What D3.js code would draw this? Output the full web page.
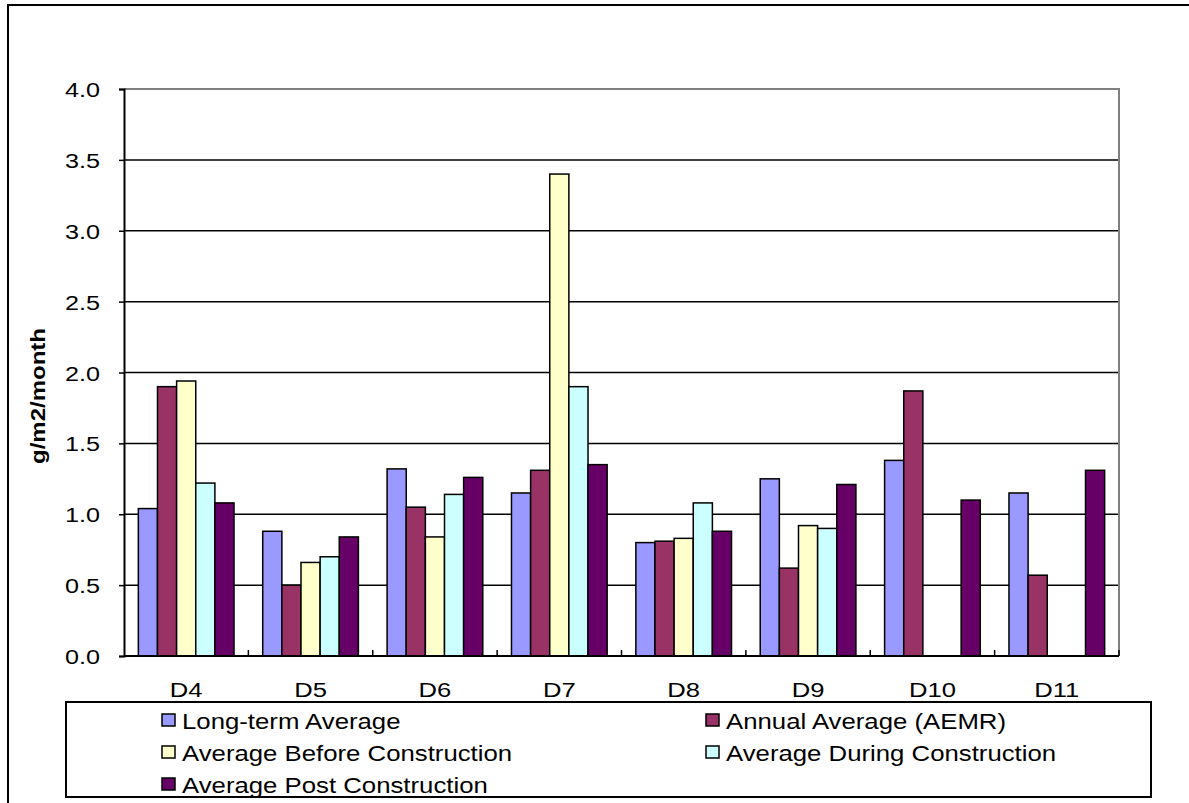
<!DOCTYPE html>
<html>
<head>
<meta charset="utf-8">
<script src="https://cdn.jsdelivr.net/npm/d3@7"></script>
<style>
  html, body { margin: 0; padding: 0; background: #fff; }
  svg { display: block; }
  text { font-family: Arial, "Liberation Sans", sans-serif; fill: #000; }
</style>
</head>
<body>
<svg id="chart" width="1189" height="803"></svg>
<script>
// Dust deposition by monitoring station (g/m2/month)
const categories = ["D4", "D5", "D6", "D7", "D8", "D9", "D10", "D11"];
const seriesNames = [
  "Long-term Average",
  "Annual Average (AEMR)",
  "Average Before Construction",
  "Average During Construction",
  "Average Post Construction"
];
const longTermAverage   = [1.04, 0.88, 1.32, 1.15, 0.80, 1.25, 1.38, 1.15];
const annualAverage     = [1.90, 0.50, 1.05, 1.31, 0.81, 0.62, 1.87, 0.57];
const beforeConstruction = [1.94, 0.66, 0.84, 3.40, 0.83, 0.92, null, null];
const duringConstruction = [1.22, 0.70, 1.14, 1.90, 1.08, 0.90, null, null];
const postConstruction   = [1.08, 0.84, 1.26, 1.35, 0.88, 1.21, 1.10, 1.31];
const seriesColors = ["#9999FF", "#993366", "#FFFFCC", "#CCFFFF", "#660066"];
const yTicks = [0, 0.5, 1, 1.5, 2, 2.5, 3, 3.5, 4];
const yTitle = "g/m2/month";

const seriesValues = [longTermAverage, annualAverage, beforeConstruction, duringConstruction, postConstruction];

const svg = d3.select("#chart");
const plot = { left: 124, right: 1119, top: 89, bottom: 656 };

// text drawn with a slight horizontal stretch
function stretchedText(sel, x, y, str, opts) {
  const sx = opts.sx || 1.18;
  const t = sel.append("text")
    .attr("transform", `translate(${x},${y}) scale(${sx},1)`)
    .attr("text-anchor", opts.anchor || "start")
    .attr("font-size", opts.size || 21)
    .attr("font-weight", opts.weight || "normal")
    .text(str);
  return t;
}

// Outer chart frame
svg.append("rect")
  .attr("x", 8).attr("y", 5).attr("width", 1300).attr("height", 900)
  .attr("fill", "none").attr("stroke", "#000").attr("stroke-width", 2);

const y = d3.scaleLinear().domain([0, 4]).range([plot.bottom, plot.top]);
const x = d3.scaleBand().domain(categories).range([plot.left, plot.right]).paddingInner(0).paddingOuter(0);
const xs = d3.scaleBand().domain(seriesNames).range([0, x.bandwidth()]).paddingInner(0).paddingOuter(0.75);

// Gridlines
svg.append("g").selectAll("line")
  .data(yTicks.filter(d => d > 0 && d < 4))
  .join("line")
  .attr("x1", plot.left).attr("x2", plot.right)
  .attr("y1", d => y(d)).attr("y2", d => y(d))
  .attr("stroke", "#000").attr("stroke-width", 1.5);

// Plot-area border (top and right, grey)
svg.append("path")
  .attr("d", `M${plot.left},${y(4)}H${plot.right}V${plot.bottom}`)
  .attr("fill", "none").attr("stroke", "#808080").attr("stroke-width", 2);

// Bars
const barData = [];
seriesValues.forEach((vals, si) => {
  vals.forEach((v, ci) => {
    if (v !== null) barData.push({ cat: categories[ci], series: seriesNames[si], value: v, color: seriesColors[si] });
  });
});
svg.append("g").selectAll("rect")
  .data(barData)
  .join("rect")
  .attr("x", d => x(d.cat) + xs(d.series))
  .attr("y", d => y(d.value))
  .attr("width", xs.bandwidth())
  .attr("height", d => y(0) - y(d.value))
  .attr("fill", d => d.color)
  .attr("stroke", "#000").attr("stroke-width", 1.5);

// Y axis
const yAxis = svg.append("g").attr("transform", `translate(${plot.left},0)`)
  .call(d3.axisLeft(y).tickValues(yTicks).tickSize(5).tickFormat(""));
yAxis.select(".domain").attr("stroke", "#000").attr("stroke-width", 2);
yAxis.selectAll(".tick line").attr("stroke", "#000").attr("stroke-width", 1.5);

yTicks.forEach(t => {
  stretchedText(svg, 100, y(t) + 8, d3.format(".1f")(t), { anchor: "end", size: 21, sx: 1.2 });
});

// X axis with inward ticks at category boundaries
const xAxisG = svg.append("g");
xAxisG.append("line")
  .attr("x1", plot.left).attr("x2", plot.right)
  .attr("y1", plot.bottom).attr("y2", plot.bottom)
  .attr("stroke", "#000").attr("stroke-width", 2);
xAxisG.selectAll("line.tick")
  .data(categories.slice(1).concat(["end"]))
  .join("line").attr("class", "tick")
  .attr("x1", (d, i) => i < categories.length - 1 ? x(d) : plot.right)
  .attr("x2", (d, i) => i < categories.length - 1 ? x(d) : plot.right)
  .attr("y1", plot.bottom).attr("y2", plot.bottom - 6)
  .attr("stroke", "#000").attr("stroke-width", 1.5);

categories.forEach(c => {
  stretchedText(svg, x(c) + x.bandwidth() / 2, 697, c, { anchor: "middle", size: 21, sx: 1.22 });
});

// Y axis title
svg.append("text")
  .attr("transform", `translate(45,396) rotate(-90) scale(1.2,1)`)
  .attr("text-anchor", "middle")
  .attr("font-size", 20)
  .attr("font-weight", "bold")
  .text(yTitle);

// Legend
const legend = svg.append("g");
legend.append("rect")
  .attr("x", 66).attr("y", 702).attr("width", 1085).attr("height", 95)
  .attr("fill", "#fff").attr("stroke", "#000").attr("stroke-width", 2);

const legendPos = [
  { sx: 162, row: 0 }, { sx: 706, row: 0 },
  { sx: 162, row: 1 }, { sx: 706, row: 1 },
  { sx: 162, row: 2 }
];
const rowCenters = [720, 752, 784];
seriesNames.forEach((name, i) => {
  const p = legendPos[i];
  const cy = rowCenters[p.row];
  legend.append("rect")
    .attr("x", p.sx).attr("y", cy - 6).attr("width", 13).attr("height", 12)
    .attr("fill", seriesColors[i]).attr("stroke", "#000").attr("stroke-width", 1.5);
  stretchedText(legend, p.sx + 20, cy + 8.5, name, { size: 23, sx: 1.12 });
});
</script>
</body>
</html>
